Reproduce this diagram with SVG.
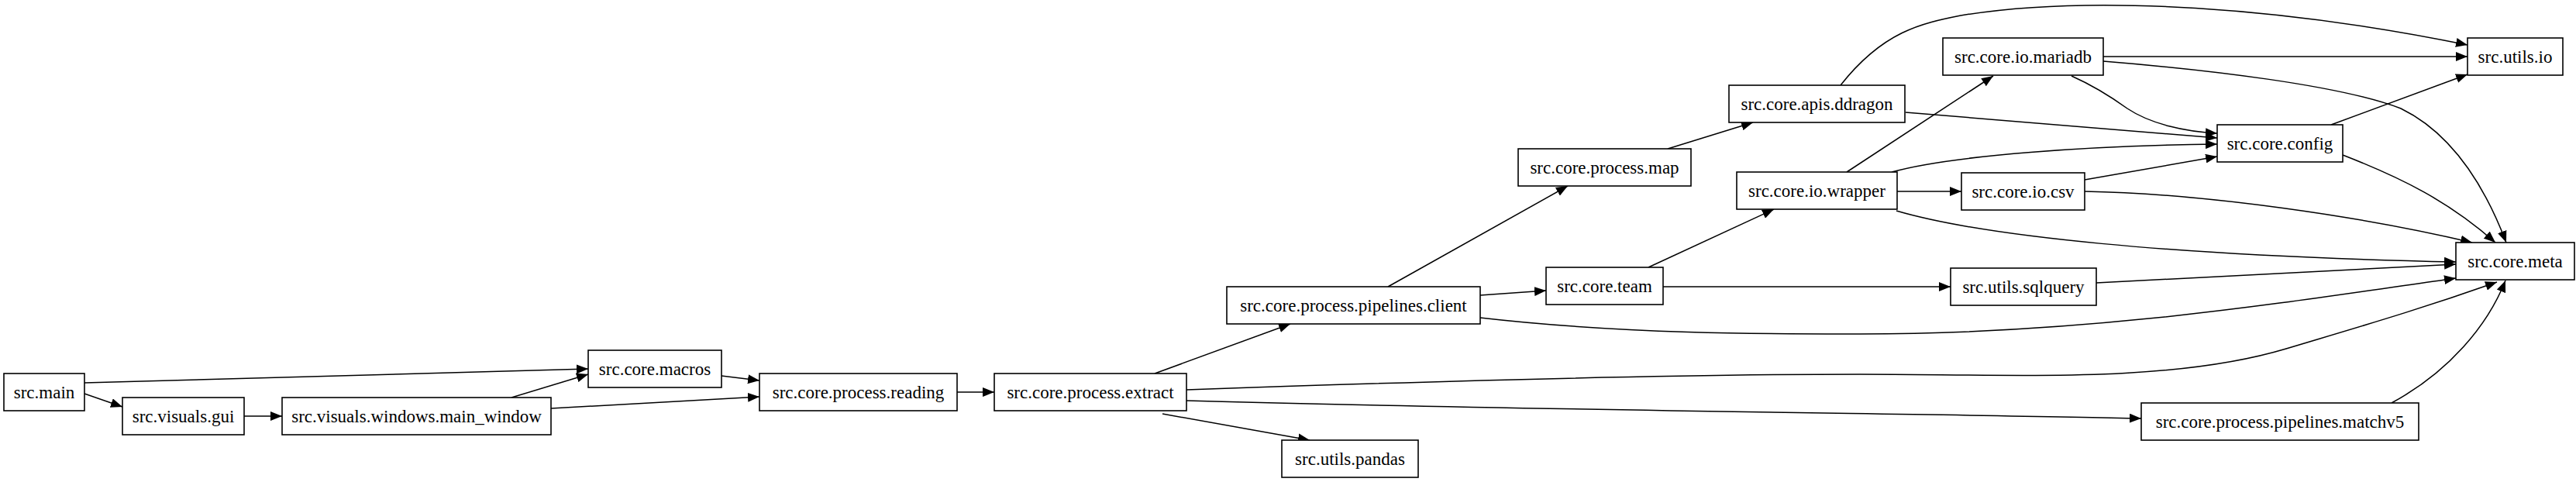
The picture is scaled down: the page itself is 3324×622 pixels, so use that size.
<svg xmlns="http://www.w3.org/2000/svg" width="3324" height="622" viewBox="0 0 3324 622">
<style>
.n rect{fill:#fff;stroke:#000;stroke-width:1.6}
.n text{font-family:"Liberation Serif","DejaVu Serif",serif;font-size:23px;text-anchor:middle;fill:#000}
#edges path{fill:none;stroke:#000;stroke-width:1.5;marker-end:url(#a)}
</style>
<defs><marker id="a" markerUnits="userSpaceOnUse" markerWidth="16" markerHeight="12" refX="15" refY="6" orient="auto"><path d="M0,0 L15,6 L0,12 Z" fill="#000"/></marker></defs>
<g id="edges">
<path d="M109,494 L759,476"/>
<path d="M109,508 L158,525"/>
<path d="M315,537 L364,537"/>
<path d="M660,513 L759,483"/>
<path d="M711,527 L980,512"/>
<path d="M931,485 L980,491"/>
<path d="M1235,506 L1283,506"/>
<path d="M1490,482 L1665,418"/>
<path d="M1791,370 L2023,240"/>
<path d="M1910,381 L1995,375"/>
<path d="M1910,410 C2100,432 2300,431 2400,431 C2700,431 2950,390 3169,359"/>
<path d="M1531,503 C1900,490 2200,483 2400,483 C2600,483 2800,495 2950,450 C3050,420 3120,400 3222,364"/>
<path d="M1531,517 C2000,530 2500,534 2763,540"/>
<path d="M1500,534 L1690,568"/>
<path d="M2152,192 L2262,158"/>
<path d="M2375,110 C2430,40 2480,30 2530,20 C2700,-8 2950,10 3184,58"/>
<path d="M2459,145 L2861,178"/>
<path d="M2383,222 L2572,98"/>
<path d="M2441,222 C2520,200 2700,188 2861,186"/>
<path d="M2448,247 L2531,247"/>
<path d="M2447,272 C2560,305 2800,330 3169,338"/>
<path d="M2127,345 L2289,270"/>
<path d="M2146,370 L2517,370"/>
<path d="M2705,365 L3169,341"/>
<path d="M2714,73 L3184,73"/>
<path d="M2673,98 C2700,110 2720,122 2745,140 C2775,160 2820,170 2861,172"/>
<path d="M2714,79 C2850,90 3020,110 3098,140 C3170,175 3210,250 3234,313"/>
<path d="M2690,232 L2861,202"/>
<path d="M2690,247 C2850,250 3050,280 3190,313"/>
<path d="M3008,161 L3184,96"/>
<path d="M3023,200 C3100,230 3160,260 3220,313"/>
<path d="M3086,520 C3160,480 3210,420 3233,362"/>
</g>
<g id="main" class="n"><rect x="5" y="482" width="104" height="48"/><text x="57" y="514">src.main</text></g>
<g id="gui" class="n"><rect x="158" y="513" width="157" height="48"/><text x="236.5" y="545">src.visuals.gui</text></g>
<g id="main_window" class="n"><rect x="364" y="513" width="347" height="48"/><text x="537.5" y="545">src.visuals.windows.main_window</text></g>
<g id="macros" class="n"><rect x="759" y="452" width="172" height="48"/><text x="845" y="484">src.core.macros</text></g>
<g id="reading" class="n"><rect x="980" y="482" width="255" height="48"/><text x="1107.5" y="514">src.core.process.reading</text></g>
<g id="extract" class="n"><rect x="1283" y="482" width="248" height="48"/><text x="1407" y="514">src.core.process.extract</text></g>
<g id="pandas" class="n"><rect x="1654" y="568" width="176" height="48"/><text x="1742" y="600">src.utils.pandas</text></g>
<g id="client" class="n"><rect x="1583" y="370" width="327" height="48"/><text x="1746.5" y="402">src.core.process.pipelines.client</text></g>
<g id="map" class="n"><rect x="1959" y="192" width="223" height="48"/><text x="2070.5" y="224">src.core.process.map</text></g>
<g id="ddragon" class="n"><rect x="2231" y="110" width="227" height="48"/><text x="2344.5" y="142">src.core.apis.ddragon</text></g>
<g id="wrapper" class="n"><rect x="2241" y="222" width="207" height="48"/><text x="2344.5" y="254">src.core.io.wrapper</text></g>
<g id="team" class="n"><rect x="1995" y="345" width="151" height="48"/><text x="2070.5" y="377">src.core.team</text></g>
<g id="mariadb" class="n"><rect x="2507" y="49" width="207" height="48"/><text x="2610.5" y="81">src.core.io.mariadb</text></g>
<g id="utils_io" class="n"><rect x="3184" y="49" width="123" height="48"/><text x="3245.5" y="81">src.utils.io</text></g>
<g id="config" class="n"><rect x="2861" y="161" width="162" height="48"/><text x="2942" y="193">src.core.config</text></g>
<g id="csv" class="n"><rect x="2531" y="223" width="159" height="48"/><text x="2610.5" y="255">src.core.io.csv</text></g>
<g id="meta" class="n"><rect x="3169" y="313" width="153" height="48"/><text x="3245.5" y="345">src.core.meta</text></g>
<g id="sqlquery" class="n"><rect x="2517" y="346" width="188" height="48"/><text x="2611" y="378">src.utils.sqlquery</text></g>
<g id="matchv5" class="n"><rect x="2763" y="520" width="358" height="48"/><text x="2942" y="552">src.core.process.pipelines.matchv5</text></g>
</svg>
